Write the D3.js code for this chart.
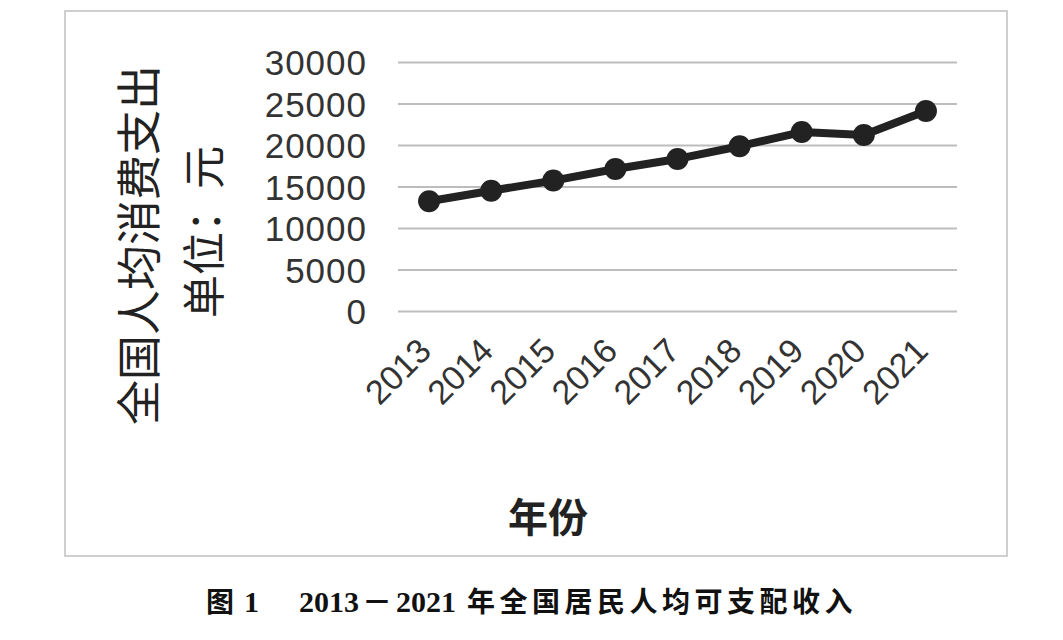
<!DOCTYPE html>
<html><head><meta charset="utf-8">
<script src="https://cdn.jsdelivr.net/npm/d3@7"></script>
<style>body{margin:0;background:#fff}</style>
</head><body>
<svg id="c" width="1063" height="640"></svg>
<script>
const years = ["2013","2014","2015","2016","2017","2018","2019","2020","2021"];
const values = [13220,14491,15712,17111,18322,19853,21559,21210,24100];
const yTicks = [0,5000,10000,15000,20000,25000,30000];
const yTitle1 = "全国人均消费支出";
const yTitle2 = "单位：元";
const xTitle = "年份";
const capFig = "图";
const capNum = "1";
const capStart = "2013";
const capDash = "－";
const capEnd = "2021";
const capText = "年全国居民人均可支配收入";

const svg = d3.select("#c");
const m = {left:398, right:957, top:62, bottom:311};
const x = d3.scaleBand().domain(years).range([m.left,m.right]);
const y = d3.scaleLinear().domain([0,30000]).range([m.bottom,m.top]);
const numFont = "'Liberation Sans', Arial, sans-serif";
const cjkFont = "'Noto Sans CJK SC', sans-serif";

// border
svg.append("rect").attr("x",65).attr("y",11).attr("width",942).attr("height",545)
  .attr("fill","none").attr("stroke","#cfcfcf").attr("stroke-width",2);

// gridlines + y labels
const yAxis = d3.axisLeft(y).tickValues(yTicks).tickSize(-(m.right-m.left)).tickPadding(31).tickFormat(d3.format("d"));
const gy = svg.append("g").attr("transform",`translate(${m.left},0)`).call(yAxis);
gy.select(".domain").remove();
gy.selectAll(".tick line").attr("stroke","#bdbdbd").attr("stroke-width",2.2);
gy.selectAll(".tick text").attr("font-family",numFont).attr("font-size",35)
  .attr("fill","#333").attr("dy","0.36em").attr("letter-spacing",1);

// x axis labels
const xAxis = d3.axisBottom(x).tickSize(0).tickPadding(0);
const gx = svg.append("g").attr("transform",`translate(0,${m.bottom})`).call(xAxis);
gx.select(".domain").remove();
gx.selectAll(".tick text")
  .attr("font-family",numFont).attr("font-size",34).attr("fill","#333")
  .attr("text-anchor","end").attr("dy",null).attr("y",0)
  .attr("transform","translate(4,42) rotate(-45)");

// line
const line = d3.line().x(d=>x(d.year)+x.bandwidth()/2).y(d=>y(d.value));
const data = years.map((yr,i)=>({year:yr,value:values[i]}));
svg.append("path").datum(data).attr("d",line).attr("fill","none")
  .attr("stroke","#222").attr("stroke-width",8).attr("stroke-linejoin","round");
svg.selectAll("circle.pt").data(data).join("circle").attr("class","pt")
  .attr("cx",d=>x(d.year)+x.bandwidth()/2).attr("cy",d=>y(d.value)).attr("r",11)
  .attr("fill","#222");

// y titles
svg.append("text").attr("transform","translate(140,245) rotate(-90)")
  .attr("text-anchor","middle").attr("dy","0.36em")
  .attr("font-family",cjkFont).attr("font-size",45).attr("fill","#222")
  .text(yTitle1);
svg.append("text").attr("transform","translate(205,232) rotate(-90)")
  .attr("text-anchor","middle").attr("dy","0.36em")
  .attr("font-family",cjkFont).attr("font-size",43).attr("fill","#222")
  .text(yTitle2);

// x title
svg.append("text").attr("x",548).attr("y",518).attr("text-anchor","middle").attr("dy","0.36em")
  .attr("font-family",cjkFont).attr("font-size",40).attr("font-weight","bold").attr("fill","#222")
  .text(xTitle);

// caption
const cap = svg.append("text").attr("y",606).attr("dy","0.36em").attr("font-weight","bold").attr("fill","#111");
cap.append("tspan").attr("x",206).attr("font-family",cjkFont).attr("font-size",28).text(capFig);
cap.append("tspan").attr("x",244).attr("font-family","'Liberation Serif', serif").attr("font-size",30).text(capNum);
cap.append("tspan").attr("x",299).attr("font-family","'Liberation Serif', serif").attr("font-size",30).text(capStart);
cap.append("tspan").attr("x",362).attr("font-family",cjkFont).attr("font-size",30).attr("font-weight","bold").text(capDash);
cap.append("tspan").attr("x",396).attr("font-family","'Liberation Serif', serif").attr("font-size",30).text(capEnd);
cap.append("tspan").attr("x",467).attr("font-family",cjkFont).attr("font-size",28).attr("letter-spacing",4.5).text(capText);
</script>
</body></html>
